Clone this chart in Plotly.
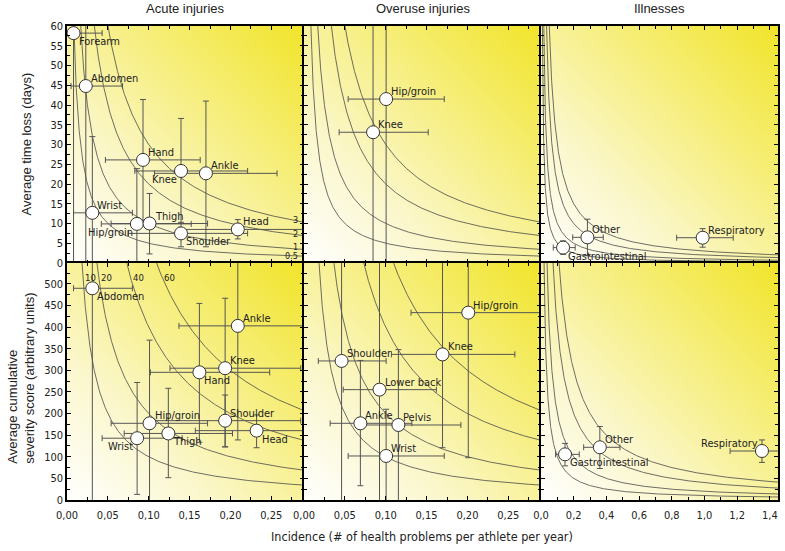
import numpy as np
import plotly.graph_objects as go
from plotly.subplots import make_subplots

# ---------------- data ----------------
COLUMN_TITLES = ["Acute injuries", "Overuse injuries", "Illnesses"]

# Acute injuries - time loss
ACUTE_TL_NAMES = ["Forearm", "Abdomen", "Hand", "Knee", "Ankle", "Wrist", "Hip/groin", "Thigh", "Shoulder", "Head"]
ACUTE_TL_X = [0.008, 0.023, 0.093, 0.1395, 0.170, 0.031, 0.0855, 0.101, 0.1395, 0.209]
ACUTE_TL_X_LO = [-0.027, 0.005, 0.047, 0.083, 0.107, 0.008, 0.042, 0.054, 0.075, 0.137]
ACUTE_TL_X_HI = [0.043, 0.068, 0.163, 0.221, 0.257, 0.080, 0.152, 0.172, 0.221, 0.300]
ACUTE_TL_Y = [58.2, 44.8, 26.1, 23.3, 22.7, 12.7, 9.9, 10.0, 7.5, 8.5]
ACUTE_TL_Y_LO = [-5, -5, 10.8, 10.0, 4.1, -7, -4, 2.3, 4.1, 6.1]
ACUTE_TL_Y_HI = [75, 90, 41.4, 36.6, 41.0, 32.0, 23.9, 17.6, 10.3, 11.0]

# Acute injuries - severity score
ACUTE_SEV_NAMES = ["Abdomen", "Ankle", "Knee", "Hand", "Shoulder", "Head", "Hip/groin", "Thigh", "Wrist"]
ACUTE_SEV_X = [0.031, 0.209, 0.1935, 0.162, 0.1935, 0.232, 0.101, 0.124, 0.0858]
ACUTE_SEV_X_LO = [0.008, 0.137, 0.126, 0.102, 0.101, 0.157, 0.054, 0.070, 0.043]
ACUTE_SEV_X_HI = [0.080, 0.320, 0.286, 0.248, 0.286, 0.320, 0.172, 0.2025, 0.141]
ACUTE_SEV_Y = [490, 403, 305, 295.5, 183.6, 160.5, 177.5, 154, 143]
ACUTE_SEV_Y_LO = [-10, 139, 123, 133.5, 123, 121, -15, 51.6, 13]
ACUTE_SEV_Y_HI = [990, 667, 467, 455, 243, 197, 370, 258.5, 272]

# Overuse injuries - time loss
OVER_TL_NAMES = ["Hip/groin", "Knee"]
OVER_TL_X = [0.1005, 0.0845]
OVER_TL_X_LO = [0.054, 0.043]
OVER_TL_X_HI = [0.1716, 0.152]
OVER_TL_Y = [41.5, 33.1]
OVER_TL_Y_LO = [-20, -20]
OVER_TL_Y_HI = [100, 90]

# Overuse injuries - severity score
OVER_SEV_NAMES = ["Hip/groin", "Knee", "Shoulder", "Lower back", "Ankle", "Pelvis", "Wrist"]
OVER_SEV_X = [0.201, 0.1695, 0.046, 0.0924, 0.069, 0.1155, 0.1005]
OVER_SEV_X_LO = [0.131, 0.107, 0.0175, 0.048, 0.032, 0.067, 0.054]
OVER_SEV_X_HI = [0.300, 0.258, 0.1005, 0.162, 0.132, 0.192, 0.1716]
OVER_SEV_Y = [433.6, 337, 321.8, 255.4, 177.5, 173.6, 101.9]
OVER_SEV_Y_LO = [98, 121, -20, -20, 33, -5, -10]
OVER_SEV_Y_HI = [770, 553, 660, 600, 323, 348, 210]

# Illnesses - time loss
ILL_TL_NAMES = ["Respiratory", "Other", "Gastrointestinal"]
ILL_TL_X = [0.989, 0.284, 0.135]
ILL_TL_X_LO = [0.830, 0.194, 0.075]
ILL_TL_X_HI = [1.176, 0.381, 0.209]
ILL_TL_Y = [6.4, 6.5, 3.9]
ILL_TL_Y_LO = [4.0, 1.9, 2.2]
ILL_TL_Y_HI = [8.7, 11.1, 5.6]

# Illnesses - severity score
ILL_SEV_NAMES = ["Respiratory", "Other", "Gastrointestinal"]
ILL_SEV_X = [1.352, 0.360, 0.147]
ILL_SEV_X_LO = [1.157, 0.261, 0.089]
ILL_SEV_X_HI = [1.550, 0.483, 0.234]
ILL_SEV_Y = [113.4, 122, 105.7]
ILL_SEV_Y_LO = [87, 73, 79]
ILL_SEV_Y_HI = [139, 170, 131]

# iso-burden curve levels (incidence x value)
TL_LEVELS = [0.5, 1, 2, 3]
SEV_LEVELS = [10, 20, 40, 60]
TL_LEVEL_LABELS = ["0.5", "1", "2", "3"]
SEV_LEVEL_LABELS = ["10", "20", "40", "60"]

# ---------------- styling ----------------
LABEL_POS = {
    "acute_tl": ["br", "tr", "tr", "bl", "tr", "tr", "bl", "tr", "br", "tr"],
    "acute_sev": ["br", "tr", "tr", "br", "tr", "br", "tr", "br", "bl"],
    "over_tl": ["tr", "tr"],
    "over_sev": ["tr"] * 7,
    "ill_tl": ["tr", "tr", "br"],
    "ill_sev": ["tl", "tr", "br"],
}
TL_LABEL_SHIFT = [0, 2, 1, 1]

X_MAX_INJ = 0.29
X_MAX_ILL = 1.45
Y_MAX_TL = 60
Y_MAX_SEV = 548.5

LABEL_FONT = "DejaVu Sans Condensed"
TITLE_FONT = "Liberation Sans"
TXT = "#222"

panels = [
    (1, 1, ACUTE_TL_NAMES, ACUTE_TL_X, ACUTE_TL_X_LO, ACUTE_TL_X_HI, ACUTE_TL_Y, ACUTE_TL_Y_LO, ACUTE_TL_Y_HI, "acute_tl", TL_LEVELS, X_MAX_INJ, Y_MAX_TL),
    (1, 2, OVER_TL_NAMES, OVER_TL_X, OVER_TL_X_LO, OVER_TL_X_HI, OVER_TL_Y, OVER_TL_Y_LO, OVER_TL_Y_HI, "over_tl", TL_LEVELS, X_MAX_INJ, Y_MAX_TL),
    (1, 3, ILL_TL_NAMES, ILL_TL_X, ILL_TL_X_LO, ILL_TL_X_HI, ILL_TL_Y, ILL_TL_Y_LO, ILL_TL_Y_HI, "ill_tl", TL_LEVELS, X_MAX_ILL, Y_MAX_TL),
    (2, 1, ACUTE_SEV_NAMES, ACUTE_SEV_X, ACUTE_SEV_X_LO, ACUTE_SEV_X_HI, ACUTE_SEV_Y, ACUTE_SEV_Y_LO, ACUTE_SEV_Y_HI, "acute_sev", SEV_LEVELS, X_MAX_INJ, Y_MAX_SEV),
    (2, 2, OVER_SEV_NAMES, OVER_SEV_X, OVER_SEV_X_LO, OVER_SEV_X_HI, OVER_SEV_Y, OVER_SEV_Y_LO, OVER_SEV_Y_HI, "over_sev", SEV_LEVELS, X_MAX_INJ, Y_MAX_SEV),
    (2, 3, ILL_SEV_NAMES, ILL_SEV_X, ILL_SEV_X_LO, ILL_SEV_X_HI, ILL_SEV_Y, ILL_SEV_Y_LO, ILL_SEV_Y_HI, "ill_sev", SEV_LEVELS, X_MAX_ILL, Y_MAX_SEV),
]

fig = make_subplots(rows=2, cols=3, horizontal_spacing=0, vertical_spacing=0)

BG_SCALE = [[0.0, "#ffffff"], [0.3, "#fbf7cc"], [0.65, "#f6ee7a"], [1.0, "#f1e42a"]]

annotations = []
for idx, (r, c, names, x, xlo, xhi, y, ylo, yhi, key, levels, xmax, ymax) in enumerate(panels):
    axn = "" if idx == 0 else str(idx + 1)
    # background gradient
    gx = np.linspace(0, xmax, 24)
    gy = np.linspace(0, ymax, 24)
    GX, GY = np.meshgrid(gx, gy)
    gz = (GX / xmax + GY / ymax) / 2
    fig.add_trace(go.Heatmap(x=gx, y=gy, z=gz, colorscale=BG_SCALE, zmin=0, zmax=1,
                             showscale=False, zsmooth="best", hoverinfo="skip"), row=r, col=c)
    # iso curves
    for lv in levels:
        cx = np.geomspace(lv / (ymax * 1.05), xmax * 1.02, 300)
        fig.add_trace(go.Scatter(x=cx, y=lv / cx, mode="lines",
                                 line=dict(color="#4a4a4a", width=0.8),
                                 hoverinfo="skip", showlegend=False), row=r, col=c)
    # points with error bars
    xa = np.array(x); ya = np.array(y)
    fig.add_trace(go.Scatter(
        x=xa, y=ya, mode="markers",
        marker=dict(size=13, color="white", line=dict(color="#333", width=1)),
        error_x=dict(type="data", symmetric=False, array=np.array(xhi) - xa,
                     arrayminus=xa - np.array(xlo), color="#555", thickness=1, width=3),
        error_y=dict(type="data", symmetric=False, array=np.array(yhi) - ya,
                     arrayminus=ya - np.array(ylo), color="#555", thickness=1, width=3),
        showlegend=False, hoverinfo="skip"), row=r, col=c)
    # point labels
    for name, px, py, pos in zip(names, x, y, LABEL_POS[key]):
        vert, horiz = pos[0], pos[1]
        annotations.append(dict(
            text=name, x=px, y=py, xref="x" + axn, yref="y" + axn, showarrow=False,
            xanchor="left" if horiz == "r" else "right",
            yanchor="bottom" if vert == "t" else "top",
            xshift=4 if horiz == "r" else -3,
            yshift=0 if vert == "t" else -1,
            borderpad=0,
            font=dict(family=LABEL_FONT, size=11, color=TXT)))

axis_common = dict(showline=True, linecolor="black", linewidth=1.5, mirror="ticks",
                   ticks="inside", ticklen=4, tickcolor="black", showgrid=False,
                   zeroline=False, tickfont=dict(family=LABEL_FONT, size=11, color=TXT))

for r in (1, 2):
    for c in (1, 2, 3):
        xmax = X_MAX_ILL if c == 3 else X_MAX_INJ
        ymax = Y_MAX_TL if r == 1 else Y_MAX_SEV
        fig.update_xaxes(range=[0, xmax], dtick=0.2 if c == 3 else 0.05,
                         tickformat=".1f" if c == 3 else ".2f", ticklabelstandoff=4,
                         minor=dict(ticks="inside", dtick=0.1 if c == 3 else 0.025, ticklen=3, tickcolor="black"),
                         showticklabels=(r == 2), row=r, col=c, **axis_common)
        fig.update_yaxes(range=[0, ymax], dtick=5 if r == 1 else 50,
                         minor=dict(ticks="inside", dtick=2.5 if r == 1 else 25, ticklen=3, tickcolor="black"),
                         showticklabels=(c == 1), row=r, col=c, **axis_common)

# column titles
for i, t in enumerate(COLUMN_TITLES):
    annotations.append(dict(text=t, xref="paper", yref="paper", x=(i + 0.5) / 3, y=1.036,
                            xanchor="center", yanchor="middle", showarrow=False,
                            font=dict(family=TITLE_FONT, size=13, color=TXT)))
# axis titles
annotations.append(dict(text="Average time loss (days)", xref="paper", yref="paper",
                        x=-0.057, y=0.751, textangle=-90, xanchor="center", yanchor="middle",
                        showarrow=False, font=dict(family=TITLE_FONT, size=13, color=TXT)))
annotations.append(dict(text="Average cumulative<br>severity score (arbitrary units)", xref="paper", yref="paper",
                        x=-0.064, y=0.257, textangle=-90, xanchor="center", yanchor="middle",
                        align="left", showarrow=False, font=dict(family=TITLE_FONT, size=13, color=TXT)))
annotations.append(dict(text="Incidence (# of health problems per athlete per year)", xref="paper", yref="paper",
                        x=0.499, y=-0.078, xanchor="center", yanchor="middle",
                        showarrow=False, font=dict(family=LABEL_FONT, size=12.5, color=TXT)))
# curve level labels
for lv, lab, sh in zip(TL_LEVELS, TL_LEVEL_LABELS, TL_LABEL_SHIFT):
    annotations.append(dict(text=lab, xref="x", yref="y", x=0.284, y=lv / 0.28, xanchor="right",
                            yanchor="middle", yshift=sh, showarrow=False, borderpad=0,
                            font=dict(family=LABEL_FONT, size=9, color=TXT)))
for lv, lab in zip(SEV_LEVELS, SEV_LEVEL_LABELS):
    annotations.append(dict(text=lab, xref="x4", yref="y4", x=lv / 514, y=514, xanchor="left",
                            yanchor="middle", xshift=1, showarrow=False, borderpad=0,
                            font=dict(family=LABEL_FONT, size=9.5, color=TXT)))

fig.update_layout(width=785, height=551, margin=dict(l=67, r=5, t=26, b=51),
                  paper_bgcolor="white", plot_bgcolor="white", separators=", ",
                  annotations=annotations, showlegend=False)

fig.write_html("out.html", config={"displayModeBar": False},
               post_script="document.body.style.margin='0';")
